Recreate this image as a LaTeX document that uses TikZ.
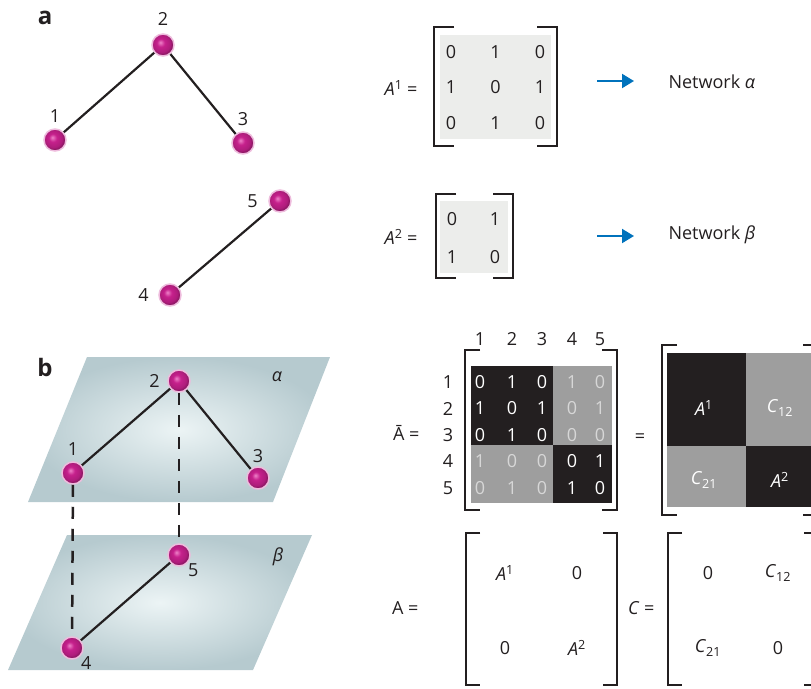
\documentclass[tikz,border=0pt]{standalone}
\usepackage{fontspec}
\setmainfont{Open Sans}
\usetikzlibrary{positioning, calc, arrows.meta}

\definecolor{ballpink}{RGB}{198,32,140}
\definecolor{ballhi}{RGB}{238,130,200}
\definecolor{inkdark}{RGB}{35,31,32}
\definecolor{blockgray}{RGB}{158,158,158}
\definecolor{paletext}{RGB}{215,215,215}
\definecolor{matgray}{RGB}{236,237,235}
\definecolor{planeedge}{RGB}{182,202,207}
\definecolor{planemid}{RGB}{236,244,245}
\definecolor{arrowblue}{RGB}{0,114,188}

\pgfdeclareradialshading{sphere}{\pgfpoint{-6bp}{6bp}}{%
  color(0bp)=(ballhi); color(9bp)=(ballpink); color(20bp)=(ballpink!88!black);
  color(25bp)=(ballpink!70!black); color(50bp)=(ballpink!70!black)}

\begin{document}
\begin{tikzpicture}[x=1pt, y=-1pt, font=\fontsize{18}{21}\selectfont, text=inkdark]
  \newcommand\hookw{15}
  \newcommand\arrowgap{31pt}

  \tikzset{vertex/.style={circle, minimum size=22pt, inner sep=0pt, shading=sphere,
                          draw=ballpink!30, line width=1.5pt}}
  \tikzset{edge/.style={draw=inkdark, line width=2.2pt}}
  \tikzset{interedge/.style={edge, line width=2.5pt, dash pattern=on 12pt off 10pt}}
  \tikzset{bracket/.style={draw=inkdark, line width=1.8pt}}
  \tikzset{netarrow/.style={draw=arrowblue, line width=2pt, -{Triangle[length=12pt, width=14pt]}}}
  \tikzset{panel/.style={font=\fontsize{24}{26}\selectfont\bfseries}}
  \tikzset{entry/.style={inner sep=0pt}}
  \tikzset{plane/.style={inner color=planemid, outer color=planeedge}}

  \useasboundingbox (0,0) rectangle (811,688);
  \clip (0,0) rectangle (811,688);

  % panel a: the two layers apart
  \node[panel] (lbla) at (45,18) {a};
  \node[vertex, label={[label distance=4pt]above:2}] (a2) at (163,45) {};
  \node[vertex, label={[label distance=2pt]above:1}] (a1) at (55,140) {};
  \node[vertex, label={[label distance=2pt]above:3}] (a3) at (243,143) {};
  \node[vertex, label={[label distance=7pt]left:5}] (a5) at (280,201) {};
  \node[vertex, label={[label distance=6pt]left:4}] (a4) at (170,295) {};
  \foreach \from/\to in {a1/a2, a2/a3, a4/a5}{
    \draw[edge] (\from) -- (\to);
  }

  % adjacency of alpha
  \node[anchor=east] (eqa1) at (421,88) {\textit{A}\textsuperscript{1} =};
  \fill[matgray] (440,35) rectangle (551,139);
  \foreach \row [count=\i] in {{0,1,0},{1,0,1},{0,1,0}}{
    \foreach \v [count=\j] in \row{
      \node[entry] (ma-\i-\j) at ({451+44.5*(\j-1)},{52+35.5*(\i-1)}) {\v};
    }
  }
  \node[anchor=west] (netalpha) at (665,82) {Network \textit{α}};
  \coordinate (arra) at (597,81);
  \draw[netarrow, shorten >=\arrowgap] (arra) -- (arra -| netalpha.west);

  % adjacency of beta
  \node[anchor=east] (eqa2) at (421,237) {\textit{A}\textsuperscript{2} =};
  \fill[matgray] (440,201) rectangle (508,273);
  \foreach \row [count=\i] in {{0,1},{1,0}}{
    \foreach \v [count=\j] in \row{
      \node[entry] (mb-\i-\j) at ({452+43*(\j-1)},{219+38*(\i-1)}) {\v};
    }
  }
  \node[anchor=west] (netbeta) at (665,235) {Network \textit{β}};
  \coordinate (arrb) at (597,236);
  \draw[netarrow, shorten >=\arrowgap] (arrb) -- (arrb -| netbeta.west);

  % brackets
  \foreach \lx/\rx/\ty/\by/\hw in {434/557/27/146/20, 436/513/194/278/20, 465/617/350/510/15,
                                  662/818/345/515/15, 466/617/533/685/14, 668/818/533/685/14}{
    \draw[bracket] (\lx+\hw,\ty) -| (\lx,\by) -- ++(\hw,0);
    \draw[bracket] (\rx-\hw,\ty) -| (\rx,\by) -- ++(-\hw,0);
  }

  % panel b: the layers stacked
  \node[panel] (lblb) at (45,367) {b};
  \shade[plane] (87,357) -- (330,357) -- (273,502) -- (28,502) -- cycle;
  \shade[plane] (67,535) -- (312,535) -- (253,670) -- (8,670) -- cycle;
  \node (alpha) at (277,377) {\textit{α}};
  \node (beta) at (278,557) {\textit{β}};
  \node[vertex, label={[label distance=4pt]left:2}] (b2) at (179,381) {};
  \node[vertex, label={[label distance=2pt]above:1}] (b1) at (73,473) {};
  \node[vertex, label={[label distance=0pt]above:3}] (b3) at (258,478) {};
  \node[vertex, label={[label distance=-4pt]below right:5}] (b5) at (179,555) {};
  \node[vertex, label={[label distance=-4pt]below right:4}] (b4) at (72,648) {};
  \foreach \from/\to in {b1/b2, b2/b3, b4/b5}{
    \draw[edge] (\from) -- (\to);
  }
  \draw[interedge] (b1) -- (b4);
  \draw[interedge] (b2) -- (b5);

  % supra-adjacency
  \node[anchor=east] (eqbar) at (423,433) {\={A} =};
  \fill[inkdark] (471,366) rectangle (553,445);
  \fill[blockgray] (553,366) rectangle (612,445);
  \fill[blockgray] (471,445) rectangle (553,503);
  \fill[inkdark] (553,445) rectangle (612,503);
  \foreach \cx [count=\j] in {480,512,542,572,600}{
    \node[entry] (colh\j) at (\cx,339) {\j};
  }
  \foreach \row [count=\i] in {{0,1,0,1,0},{1,0,1,0,1},{0,1,0,0,0},{1,0,0,0,1},{0,1,0,1,0}}{
    \node[entry] (rowh\i) at (448,{382+26.5*(\i-1)}) {\i};
    \foreach \v [count=\j] in \row{
      \pgfmathtruncatemacro\samelayer{(\i<4)==(\j<4)}
      \ifnum\samelayer=1 \def\entrycol{white}\else\def\entrycol{paletext}\fi
      \node[entry, text=\entrycol] (ms-\i-\j) at (colh\j |- rowh\i) {\v};
    }
  }
  \node (eqmid) at (640,438) {=};
  \fill[inkdark] (667,353) rectangle (746,446);
  \fill[blockgray] (746,353) rectangle (813,446);
  \fill[blockgray] (667,446) rectangle (746,507);
  \fill[inkdark] (746,446) rectangle (813,507);
  \node[text=white] (blk11) at (704,408) {\textit{A}\textsuperscript{1}};
  \node[text=white] (blk12) at (780,408) {\textit{C}\textsubscript{12}};
  \node[text=white] (blk21) at (704,480) {\textit{C}\textsubscript{21}};
  \node[text=white] (blk22) at (780,480) {\textit{A}\textsuperscript{2}};

  % intra and inter parts
  \node[anchor=east] (eqintra) at (422,608) {A =};
  \node (in11) at (505,573) {\textit{A}\textsuperscript{1}};
  \node (in12) at (577,573) {0};
  \node (in21) at (505,648) {0};
  \node (in22) at (577,648) {\textit{A}\textsuperscript{2}};
  \node[anchor=east] (eqinter) at (658,608) {\textit{C} =};
  \node (ix11) at (708,573) {0};
  \node (ix12) at (778,573) {\textit{C}\textsubscript{12}};
  \node (ix21) at (708,648) {\textit{C}\textsubscript{21}};
  \node (ix22) at (778,648) {0};
\end{tikzpicture}
\end{document}
